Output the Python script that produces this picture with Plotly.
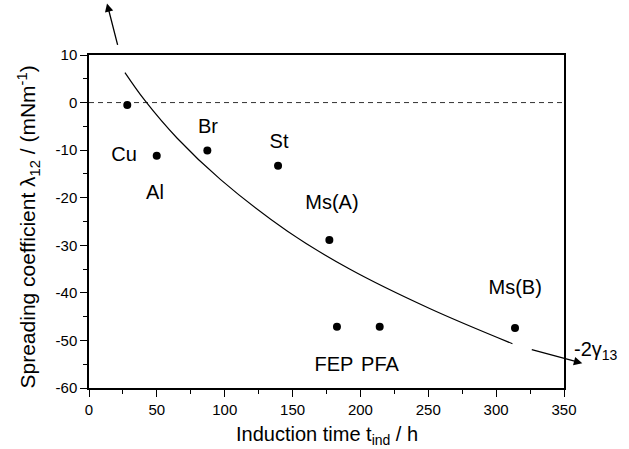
import plotly.graph_objects as go

# Measured points
names = ["Cu", "Al", "Br", "St", "Ms(A)", "FEP", "PFA", "Ms(B)"]
t_ind = [28.2, 49.9, 87.2, 139.3, 177.1, 182.7, 214.2, 313.9]
lam12 = [-0.5, -11.2, -10.1, -13.3, -28.9, -47.1, -47.1, -47.4]

# Label positions (data coords)
label_x = [25.8, 48.6, 87.7, 140.0, 179.0, 180.5, 214.4, 314.0]
label_y = [-11.2, -19.2, -5.3, -8.5, -21.3, -55.3, -55.3, -39.2]

# Fitted curve
curve_x = [26.5, 41.0, 65.0, 97.0, 146.0, 192.0, 251.0, 312.0]
curve_y = [6.3, 0.5, -7.5, -16.2, -27.0, -35.0, -43.3, -50.7]

# Zero reference line
zero_x = [0, 350]
zero_y = [0, 0]

x_ticks = [0, 50, 100, 150, 200, 250, 300, 350]
x_ticktext = ["0", "50", "100", "150", "200", "250", "300", "350"]
y_ticks = [10, 0, -10, -20, -30, -40, -50, -60]
y_ticktext = ["10", "0", "-10", "-20", "-30", "-40", "-50", "-60"]

x_title = "Induction time t<sub>ind</sub> / h"
y_title = "Spreading coefficient λ<sub>12</sub> / (mNm<sup>-1</sup>)"

FONT = "Liberation Sans, Arial, sans-serif"

fig = go.Figure()
fig.add_trace(go.Scatter(x=zero_x, y=zero_y, mode="lines",
                         line=dict(color="#333", width=1, dash="5px,4px"),
                         hoverinfo="skip", showlegend=False))
fig.add_trace(go.Scatter(x=curve_x, y=curve_y, mode="lines",
                         line=dict(color="black", width=1.2, shape="spline", smoothing=1.0),
                         showlegend=False))
fig.add_trace(go.Scatter(x=t_ind, y=lam12, mode="markers",
                         marker=dict(color="black", size=8),
                         showlegend=False))
fig.add_trace(go.Scatter(x=label_x, y=label_y, mode="text", text=names,
                         textfont=dict(family=FONT, size=20, color="black"),
                         showlegend=False, hoverinfo="skip"))

# Arrows (paper coordinates, tail offsets in pixels)
fig.add_annotation(x=0.0379, y=1.155, xref="paper", yref="paper",
                   ax=11, ay=43, text="", showarrow=True,
                   arrowhead=2, arrowsize=1.3, arrowwidth=1.3, arrowcolor="black")
fig.add_annotation(x=1.0385, y=0.0742, xref="paper", yref="paper",
                   ax=-52, ay=-14, text="", showarrow=True,
                   arrowhead=2, arrowsize=1.3, arrowwidth=1.3, arrowcolor="black")
fig.add_annotation(x=1.017, y=0.112, xref="paper", yref="paper", text="-2γ<sub>13</sub>",
                   showarrow=False, xanchor="left", yanchor="middle",
                   font=dict(family=FONT, size=20, color="black"))

# Axis titles as annotations
fig.add_annotation(x=0.5, y=-0.144, xref="paper", yref="paper", text=x_title,
                   showarrow=False, xanchor="center", yanchor="middle",
                   font=dict(family=FONT, size=20, color="black"))
fig.add_annotation(x=-0.1284, y=0.482, xref="paper", yref="paper", text=y_title,
                   showarrow=False, xanchor="center", yanchor="middle", textangle=-90,
                   font=dict(family=FONT, size=21, color="black"))

fig.update_layout(
    width=629, height=449,
    margin=dict(l=89, r=65, t=55, b=61, autoexpand=False),
    paper_bgcolor="white", plot_bgcolor="white",
    font=dict(family=FONT, color="black"),
    xaxis=dict(range=[0, 350], tickvals=x_ticks, ticktext=x_ticktext,
               ticks="outside", ticklen=7, tickwidth=1.2, tickcolor="black",
               showline=True, linecolor="black", linewidth=1.5, mirror=True,
               showgrid=False, zeroline=False, automargin=False,
               tickfont=dict(size=15),
               minor=dict(dtick=25, ticks="outside", ticklen=4, tickwidth=1.2, tickcolor="black", showgrid=False)),
    yaxis=dict(range=[-60, 10], tickvals=y_ticks, ticktext=y_ticktext,
               ticks="outside", ticklen=7, tickwidth=1.2, tickcolor="black",
               showline=True, linecolor="black", linewidth=1.5, mirror=True,
               showgrid=False, zeroline=False, automargin=False,
               tickfont=dict(size=15),
               minor=dict(dtick=5, ticks="outside", ticklen=4, tickwidth=1.2, tickcolor="black", showgrid=False)),
)

fig.write_html("out.html")
